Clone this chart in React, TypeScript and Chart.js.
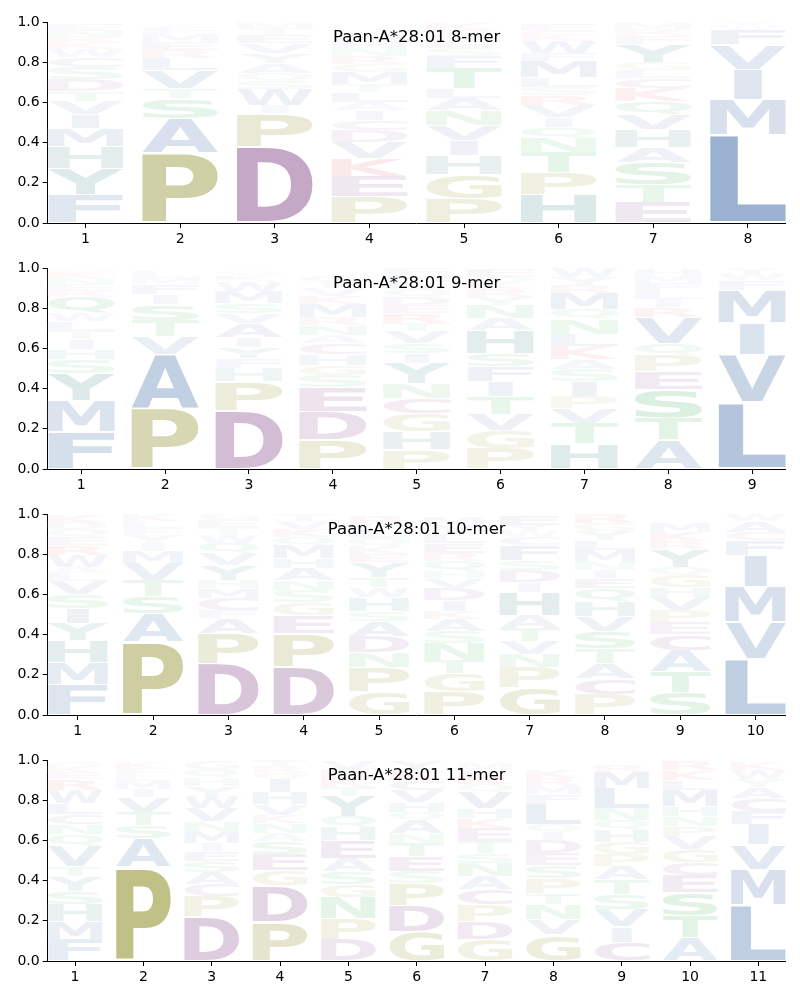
import React, { useEffect, useRef } from "react";
import { Chart, registerables } from "chart.js";
Chart.register(...registerables);

const TITLES = ["Paan-A*28:01 8-mer", "Paan-A*28:01 9-mer", "Paan-A*28:01 10-mer", "Paan-A*28:01 11-mer"];
const Y_TICKS = [0, 0.2, 0.4, 0.6, 0.8, 1.0];

// Letters per position, bottom -> top, with their heights
const LETTERS_8 = [
  "FYHMIVTDSCWKRNE", "PASTVLREMFI", "DPIWSQAYVETM", "PEKVDCIALTMGRNHW",
  "PGHIVNALTFSERQK", "HPTNQIVRSLMFWKCE", "ETSAHVQKCLGYFRM", "LMIVFWY",
];
const HEIGHTS_8 = [
  [0.14, 0.13, 0.11, 0.09, 0.07, 0.065, 0.05, 0.06, 0.06, 0.05, 0.04, 0.03, 0.03, 0.03, 0.03],
  [0.35, 0.17, 0.10, 0.05, 0.09, 0.06, 0.04, 0.04, 0.04, 0.03, 0.02],
  [0.38, 0.165, 0.04, 0.08, 0.04, 0.04, 0.05, 0.05, 0.05, 0.04, 0.03, 0.03],
  [0.13, 0.10, 0.09, 0.08, 0.06, 0.05, 0.05, 0.04, 0.05, 0.04, 0.06, 0.04, 0.04, 0.04, 0.03, 0.03],
  [0.12, 0.12, 0.095, 0.075, 0.075, 0.075, 0.06, 0.05, 0.10, 0.06, 0.04, 0.03, 0.03, 0.03, 0.03],
  [0.14, 0.11, 0.10, 0.075, 0.05, 0.05, 0.06, 0.05, 0.04, 0.05, 0.08, 0.04, 0.06, 0.03, 0.02, 0.03],
  [0.10, 0.09, 0.11, 0.075, 0.09, 0.075, 0.065, 0.065, 0.05, 0.04, 0.04, 0.09, 0.04, 0.03, 0.03],
  [0.44, 0.175, 0.15, 0.125, 0.075, 0.02, 0.015],
];

const LETTERS_9 = [
  "FMYSHITLWQRENKG", "PAVTSIFML", "DPHFYIAVSMWKQ", "PDESGHCANRMKVTQ",
  "PHGCNYISVTREDQLMF", "PGVTIFSHANYRKQE", "HTVPISAKLNQMRYW", "ATSEPQVRILFMH", "LVIMFWY",
];
const HEIGHTS_9 = [
  [0.185, 0.155, 0.135, 0.07, 0.05, 0.05, 0.04, 0.05, 0.04, 0.08, 0.03, 0.03, 0.03, 0.03, 0.025],
  [0.30, 0.27, 0.09, 0.08, 0.08, 0.05, 0.05, 0.03, 0.03],
  [0.29, 0.145, 0.065, 0.05, 0.055, 0.05, 0.07, 0.05, 0.05, 0.06, 0.05, 0.025, 0.02],
  [0.145, 0.14, 0.12, 0.06, 0.05, 0.055, 0.055, 0.04, 0.05, 0.04, 0.065, 0.04, 0.04, 0.03, 0.03],
  [0.095, 0.09, 0.09, 0.075, 0.075, 0.10, 0.05, 0.05, 0.06, 0.04, 0.05, 0.04, 0.04, 0.04, 0.035, 0.035, 0.035],
  [0.10, 0.09, 0.08, 0.09, 0.075, 0.075, 0.065, 0.115, 0.06, 0.065, 0.04, 0.04, 0.03, 0.03, 0.04],
  [0.125, 0.10, 0.075, 0.06, 0.075, 0.06, 0.05, 0.065, 0.06, 0.075, 0.05, 0.08, 0.04, 0.04, 0.045],
  [0.145, 0.11, 0.14, 0.09, 0.08, 0.06, 0.13, 0.05, 0.04, 0.04, 0.04, 0.035, 0.03],
  [0.33, 0.24, 0.155, 0.165, 0.05, 0.03, 0.03],
];

const LETTERS_10 = [
  "FMHYISVLAWREQDK", "PASTVMIYFLK", "DPAFCMHYVQWTEG", "DPEGSNAHMQKVT", "GPNDASHWTYEKQLFR",
  "PGTNSAKIDVHQRELYM", "GPNVTAHIDSFCWYE", "PCATSVHQEINMLYGR", "STACEPVHGQYRKM", "LVMIFCAW",
];
const HEIGHTS_10 = [
  [0.15, 0.11, 0.11, 0.085, 0.075, 0.07, 0.065, 0.04, 0.03, 0.06, 0.05, 0.04, 0.04, 0.03, 0.04],
  [0.365, 0.14, 0.085, 0.08, 0.085, 0.06, 0.04, 0.04, 0.035, 0.035, 0.035],
  [0.255, 0.15, 0.075, 0.04, 0.06, 0.05, 0.04, 0.075, 0.06, 0.05, 0.04, 0.04, 0.035, 0.035],
  [0.24, 0.165, 0.09, 0.065, 0.06, 0.05, 0.06, 0.05, 0.065, 0.04, 0.04, 0.04, 0.035],
  [0.115, 0.12, 0.075, 0.08, 0.075, 0.05, 0.07, 0.05, 0.05, 0.075, 0.04, 0.04, 0.04, 0.04, 0.03, 0.04],
  [0.115, 0.09, 0.065, 0.085, 0.06, 0.06, 0.04, 0.055, 0.06, 0.05, 0.035, 0.05, 0.04, 0.05, 0.045, 0.045, 0.04],
  [0.135, 0.10, 0.065, 0.065, 0.065, 0.065, 0.115, 0.05, 0.06, 0.05, 0.075, 0.04, 0.03, 0.03, 0.05],
  [0.10, 0.08, 0.075, 0.075, 0.085, 0.075, 0.075, 0.065, 0.05, 0.04, 0.04, 0.06, 0.05, 0.045, 0.04, 0.045],
  [0.11, 0.105, 0.105, 0.08, 0.06, 0.06, 0.065, 0.05, 0.06, 0.04, 0.09, 0.04, 0.045, 0.045],
  [0.28, 0.185, 0.175, 0.155, 0.075, 0.04, 0.055, 0.035],
];

const LETTERS_11 = [
  "FMHSYTVQNCLWREKG", "PASTVIMLFK", "DPCASEIMNVWYHQG", "PDGESANKVHIQRT", "DPNGSAEHQYTKRV",
  "GDPSETNAQHVCKY", "GDPCANSTEKHVQRLM", "GVNTPSEDIQLFMRK", "CIVSTAPGHQNLMR", "ATSECGVPNHMLKR", "LMVIFCAYWK",
];
const HEIGHTS_11 = [
  [0.105, 0.09, 0.085, 0.065, 0.075, 0.05, 0.10, 0.06, 0.05, 0.05, 0.055, 0.065, 0.055, 0.03, 0.03, 0.03],
  [0.47, 0.14, 0.065, 0.065, 0.075, 0.04, 0.04, 0.03, 0.03, 0.03],
  [0.22, 0.10, 0.06, 0.06, 0.055, 0.05, 0.04, 0.06, 0.05, 0.065, 0.06, 0.05, 0.04, 0.045, 0.045],
  [0.195, 0.18, 0.075, 0.08, 0.065, 0.04, 0.05, 0.04, 0.055, 0.06, 0.065, 0.03, 0.03, 0.035],
  [0.105, 0.105, 0.105, 0.065, 0.065, 0.065, 0.09, 0.065, 0.055, 0.10, 0.045, 0.045, 0.04, 0.045],
  [0.145, 0.13, 0.11, 0.06, 0.075, 0.065, 0.05, 0.065, 0.04, 0.05, 0.06, 0.05, 0.05, 0.05],
  [0.105, 0.09, 0.085, 0.075, 0.065, 0.065, 0.05, 0.06, 0.065, 0.05, 0.05, 0.08, 0.04, 0.04, 0.03, 0.03],
  [0.13, 0.075, 0.075, 0.055, 0.075, 0.065, 0.06, 0.065, 0.04, 0.04, 0.10, 0.05, 0.04, 0.04, 0.04],
  [0.095, 0.075, 0.085, 0.075, 0.075, 0.065, 0.06, 0.06, 0.06, 0.05, 0.06, 0.10, 0.08, 0.035],
  [0.115, 0.11, 0.115, 0.085, 0.065, 0.065, 0.065, 0.05, 0.05, 0.05, 0.08, 0.05, 0.05, 0.05],
  [0.28, 0.175, 0.125, 0.10, 0.065, 0.065, 0.055, 0.04, 0.045, 0.04],
];

const LETTER_SETS = [LETTERS_8, LETTERS_9, LETTERS_10, LETTERS_11];
const HEIGHT_SETS = [HEIGHTS_8, HEIGHTS_9, HEIGHTS_10, HEIGHTS_11];

const BASE_COLORS: Record<string, number[]> = {
  blue: [25, 80, 148],
  teal: [0, 98, 91],
  olive: [120, 122, 0],
  purple: [102, 26, 105],
  green: [0, 150, 30],
  red: [210, 20, 20],
};
const LETTER_GROUP: Record<string, string> = {
  A: "blue", V: "blue", L: "blue", I: "blue", M: "blue", F: "blue", W: "blue",
  H: "teal", Y: "teal",
  P: "olive", G: "olive",
  D: "purple", E: "purple", C: "purple",
  S: "green", T: "green", N: "green", Q: "green",
  K: "red", R: "red",
};

const FONT = "'DejaVu Sans', 'Liberation Sans', sans-serif";
const glyphCache: Record<string, any> = {};

function measureGlyph(ctx: CanvasRenderingContext2D, ch: string) {
  let m = glyphCache[ch];
  if (!m) {
    const t = ctx.measureText(ch);
    m = {
      l: t.actualBoundingBoxLeft,
      r: t.actualBoundingBoxRight,
      a: t.actualBoundingBoxAscent,
      d: t.actualBoundingBoxDescent,
    };
    glyphCache[ch] = m;
  }
  return m;
}

// stretch letters to fill the box, but no more horizontally than an "E" would need
function drawGlyph(ctx: CanvasRenderingContext2D, ch: string, x: number, yTop: number, w: number, h: number, color: string) {
  if (w <= 0 || h <= 0.2) return;
  ctx.save();
  ctx.font = `bold 200px ${FONT}`;
  ctx.textAlign = "left";
  ctx.textBaseline = "alphabetic";
  const m = measureGlyph(ctx, ch);
  const e = measureGlyph(ctx, "E");
  const gw = m.l + m.r;
  const gh = m.a + m.d;
  const sx = Math.min(w / gw, w / (e.l + e.r));
  const drawnW = gw * sx;
  ctx.translate(x + (w - drawnW) / 2, yTop);
  ctx.scale(sx, h / gh);
  ctx.fillStyle = color;
  ctx.fillText(ch, m.l, m.a);
  ctx.restore();
}

const logoPlugin = {
  id: "logoLetters",
  afterDatasetsDraw(chart: any, _args: any, opts: any) {
    const { ctx, chartArea, scales } = chart;
    const xs = scales.x;
    const ys = scales.y;
    const letters: string[] = opts.letters;
    const heights: number[][] = opts.heights;
    ctx.save();
    ctx.beginPath();
    ctx.rect(chartArea.left, chartArea.top, chartArea.right - chartArea.left, chartArea.bottom - chartArea.top);
    ctx.clip();
    letters.forEach((col, i) => {
      const pos = i + 1;
      const xl = xs.getPixelForValue(pos - 0.4);
      const xr = xs.getPixelForValue(pos + 0.4);
      let cum = 0;
      for (let k = 0; k < col.length; k++) {
        const hv = heights[i][k];
        const yb = ys.getPixelForValue(cum);
        const yt = ys.getPixelForValue(cum + hv);
        cum += hv;
        const ch = col[k];
        const base = BASE_COLORS[LETTER_GROUP[ch]] || [80, 80, 80];
        const a = Math.min(1, Math.max(0.02, hv));
        const c = base.map((v) => Math.round(255 - a * (255 - v)));
        const pad = (yb - yt) * 0.025;
        drawGlyph(ctx, ch, xl, yt + pad, xr - xl, yb - yt - 2 * pad, `rgb(${c[0]},${c[1]},${c[2]})`);
      }
    });
    ctx.restore();
    ctx.save();
    ctx.font = `16.5px ${FONT}`;
    ctx.fillStyle = "#000";
    ctx.textAlign = "center";
    ctx.textBaseline = "alphabetic";
    ctx.fillText(opts.title, (chartArea.left + chartArea.right) / 2, chartArea.top + 20);
    ctx.restore();
  },
};

const TICK_FONT = { family: FONT, size: 14 };

function Logo({ index }: { index: number }) {
  const ref = useRef<HTMLCanvasElement>(null);
  useEffect(() => {
    const letters = LETTER_SETS[index];
    const heights = HEIGHT_SETS[index];
    const n = letters.length;
    const positions = letters.map((_, i) => i + 1);
    const chart = new Chart(ref.current as HTMLCanvasElement, {
      type: "scatter",
      data: { datasets: [{ data: [], pointRadius: 0 }] },
      options: {
        animation: false,
        responsive: false,
        devicePixelRatio: 1,
        layout: { padding: { top: 12, right: 14.3, left: 0, bottom: 0 } },
        plugins: {
          legend: { display: false },
          tooltip: { enabled: false },
          logoLetters: { letters, heights, title: TITLES[index] },
        } as any,
        scales: {
          x: {
            type: "linear",
            min: 0.6,
            max: n + 0.4,
            afterBuildTicks: (s: any) => {
              s.ticks = positions.map((v) => ({ value: v }));
            },
            afterFit: (s: any) => {
              s.height = 30;
            },
            ticks: { callback: (v: any) => String(v), font: TICK_FONT, color: "#000", padding: 3, maxRotation: 0, autoSkip: false },
            grid: { display: true, drawOnChartArea: false, drawTicks: true, tickLength: 5, tickColor: "#000", tickWidth: 1 },
            border: { display: true, color: "#000", width: 1 },
          },
          y: {
            type: "linear",
            min: 0,
            max: 1,
            afterBuildTicks: (s: any) => {
              s.ticks = Y_TICKS.map((v) => ({ value: v }));
            },
            afterFit: (s: any) => {
              s.width = 47.7;
            },
            ticks: { callback: (v: any) => Number(v).toFixed(1), font: TICK_FONT, color: "#000", padding: 3 },
            grid: { display: true, drawOnChartArea: false, drawTicks: true, tickLength: 5, tickColor: "#000", tickWidth: 1 },
            border: { display: true, color: "#000", width: 1 },
          },
        },
      } as any,
      plugins: [logoPlugin],
    });
    return () => chart.destroy();
  }, [index]);
  const top = 21.5 + index * 246.15 - 12;
  return (
    <div style={{ position: "absolute", left: 0, top, width: 800, height: 243 }}>
      <canvas ref={ref} width={800} height={243} style={{ display: "block" }} />
    </div>
  );
}

export default function App() {
  return (
    <div style={{ position: "absolute", left: 0, top: 0, width: 800, height: 1000, background: "#fff" }}>
      {[0, 1, 2, 3].map((i) => (
        <Logo key={i} index={i} />
      ))}
    </div>
  );
}
